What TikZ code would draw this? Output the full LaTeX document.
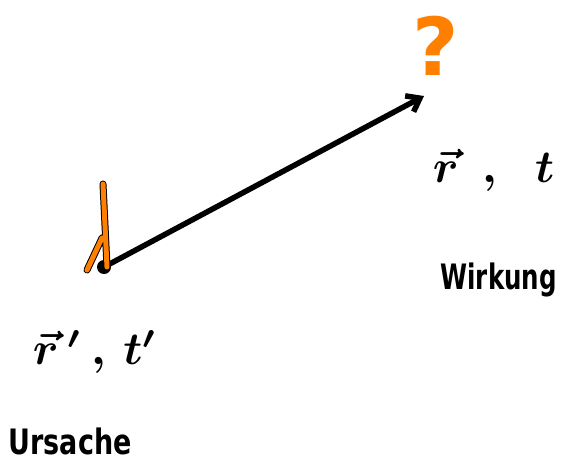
\documentclass[tikz,border=0pt]{standalone}
\usepackage{fontspec}
\newfontfamily\handfont{DejaVu Sans}
\usetikzlibrary{arrows.meta}
\definecolor{pen}{RGB}{255,127,0}
\tikzset{
  ink/.style={line width=5.5pt, line cap=round, line join=round, black},
  orangeink/.style={line width=5pt, line cap=round, line join=round, pen},
  hand/.style={font=\handfont\bfseries, inner sep=0pt, anchor=west},
  handmath/.style={font=\boldmath, inner sep=0pt, anchor=west, scale=4.6}
}
\begin{document}
\begin{tikzpicture}[x=1pt,y=-1pt]
\useasboundingbox (0,0) rectangle (562,474);
% source point
\node[circle, fill=black, minimum size=14pt, inner sep=0pt] (src) at (104,267) {};
\coordinate (tip) at (424,96);
\draw[ink, -{Straight Barb[length=12pt,width=18pt]}] (src.center) -- (tip);
% orange lambda
\coordinate (la) at (103,184);
\coordinate (lb) at (107,267);
\coordinate (lm) at (102,238);
\coordinate (lc) at (87,270);
\draw[line width=7pt, line cap=round, black] (la) -- (lb) (lm) -- (lc);
\draw[orangeink] (la) -- (lb) (lm) -- (lc);
% question mark
\node[font=\handfont\bfseries, text=pen, inner sep=0pt, scale=8] (q) at (436,46) {?};
% labels
\node[handmath] (rt) at (432,170) {$\vec{r}\;\,,\;\;t$};
\node[hand, xscale=2.45, yscale=3.5] (wirk) at (440,280) {Wirkung};
\node[handmath] (rtp) at (32,352) {$\vec{r}\,'\,,\,t'$};
\node[hand, xscale=2.7, yscale=3.5] (urs) at (8,441) {Ursache};
\end{tikzpicture}
\end{document}
